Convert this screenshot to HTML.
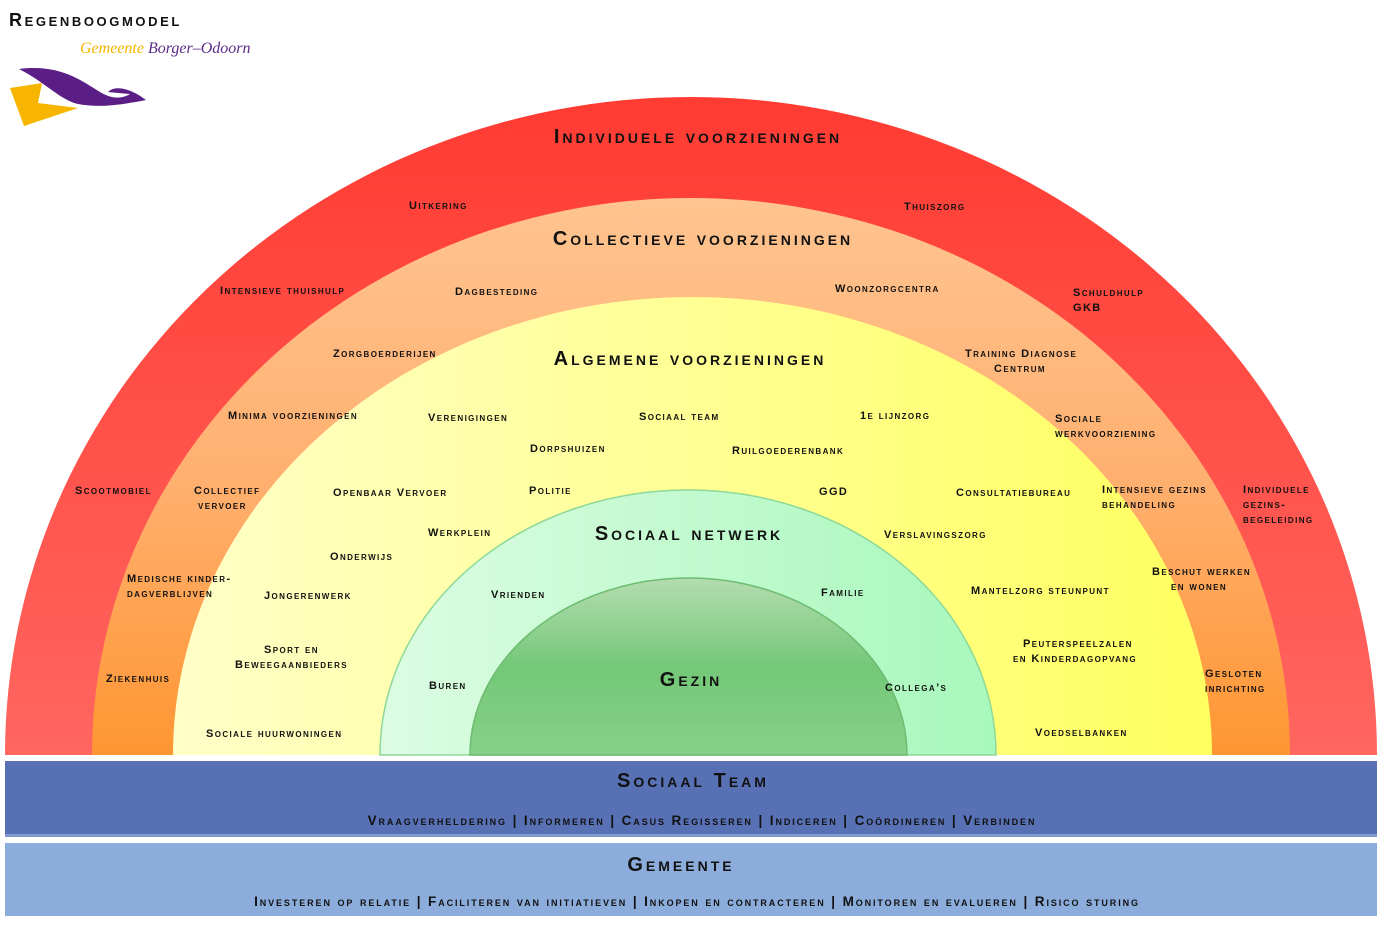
<!DOCTYPE html>
<html><head><meta charset="utf-8"><style>
html,body{margin:0;padding:0;background:#fff;width:1386px;height:948px;overflow:hidden}
svg text{font-family:"Liberation Sans",sans-serif;font-weight:bold;font-variant:small-caps;fill:#111}
.s{font-size:11px;letter-spacing:1.4px}
.h{font-size:20px;letter-spacing:3px}
.b{font-size:13.5px;letter-spacing:1.9px}
</style></head><body>
<svg width="1386" height="948" viewBox="0 0 1386 948" xmlns="http://www.w3.org/2000/svg">
<defs>
<linearGradient id="r" x1="0" y1="0" x2="0" y2="1"><stop offset="0" stop-color="#ff3b32"/><stop offset="1" stop-color="#ff6660"/></linearGradient>
<linearGradient id="o" x1="0" y1="0" x2="0" y2="1"><stop offset="0" stop-color="#ffc490"/><stop offset="0.5" stop-color="#ffb070"/><stop offset="1" stop-color="#ff9632"/></linearGradient>
<linearGradient id="y" x1="0" y1="0" x2="1" y2="0"><stop offset="0" stop-color="#ffffc8"/><stop offset="1" stop-color="#ffff60"/></linearGradient>
<linearGradient id="g" x1="0" y1="0" x2="1" y2="0"><stop offset="0" stop-color="#dcfce2"/><stop offset="1" stop-color="#a8f8bc"/></linearGradient>
<linearGradient id="d" x1="0" y1="0" x2="0" y2="1"><stop offset="0" stop-color="#b4dcb0"/><stop offset="0.5" stop-color="#74c878"/><stop offset="1" stop-color="#88d088"/></linearGradient>
</defs>
<path d="M5 755 A686 658 0 0 1 1377 755 Z" fill="url(#r)"/>
<path d="M92 755 A599 557 0 0 1 1290 755 Z" fill="url(#o)"/>
<path d="M173 755 A519.5 458 0 0 1 1212 755 Z" fill="url(#y)"/>
<path d="M380 755 A308 265 0 0 1 996 755 Z" fill="url(#g)" stroke="#8ed89a" stroke-width="1.5"/>
<path d="M470 755 A218.5 177 0 0 1 907 755 Z" fill="url(#d)" stroke="#6cbc70" stroke-width="1.5"/>
<rect x="5" y="761" width="1372" height="75" fill="#5871b5"/>
<rect x="5" y="834" width="1372" height="3" fill="#7d9ad0"/>
<rect x="5" y="843" width="1372" height="73" fill="#8caddc"/>

<text x="9" y="26" style="font-size:18px;letter-spacing:2.6px">Regenboogmodel</text>
<text x="80" y="53" style="font-family:'Liberation Serif',serif;font-variant:normal;font-weight:normal;font-style:italic;font-size:16px;fill:#f5b400">Gemeente <tspan style="fill:#5a2a86">Borger–Odoorn</tspan></text>
<path d="M19 69 C60 64 80 80 100 92 C110 98 120 100 130 94 L108 92 C115 85 130 88 146 100 C120 105 100 108 78 104 C60 100 45 82 19 69 Z" fill="#5a1e86"/>
<path d="M10 88 L42 83 L38 103 L78 108 L24 126 Z" fill="#f7b500"/>

<g text-anchor="middle">
<text class="h" x="698" y="143">Individuele voorzieningen</text>
<text class="h" x="703" y="245">Collectieve voorzieningen</text>
<text class="h" x="690" y="365">Algemene voorzieningen</text>
<text class="h" x="689" y="540">Sociaal netwerk</text>
<text class="h" x="691" y="686">Gezin</text>
<text class="h" x="693" y="787">Sociaal Team</text>
<text class="h" x="681" y="871">Gemeente</text>
<text class="b" x="702" y="825">Vraagverheldering | Informeren | Casus Regisseren | Indiceren | Coördineren | Verbinden</text>
<text class="b" x="697" y="906">Investeren op relatie | Faciliteren van initiatieven | Inkopen en contracteren | Monitoren en evalueren | Risico sturing</text>
</g>

<g>
<text class="s" x="409" y="209">Uitkering</text>
<text class="s" x="904" y="210">Thuiszorg</text>
<text class="s" x="220" y="294">Intensieve thuishulp</text>
<text class="s" x="455" y="295">Dagbesteding</text>
<text class="s" x="835" y="292">Woonzorgcentra</text>
<text class="s" x="1073" y="296">Schuldhulp</text>
<text class="s" x="1073" y="311">GKB</text>
<text class="s" x="333" y="357">Zorgboerderijen</text>
<text class="s" x="965" y="357">Training Diagnose</text>
<text class="s" x="994" y="372">Centrum</text>
<text class="s" x="228" y="419">Minima voorzieningen</text>
<text class="s" x="428" y="421">Verenigingen</text>
<text class="s" x="639" y="420">Sociaal team</text>
<text class="s" x="860" y="419">1e lijnzorg</text>
<text class="s" x="1055" y="422">Sociale</text>
<text class="s" x="1055" y="437">werkvoorziening</text>
<text class="s" x="530" y="452">Dorpshuizen</text>
<text class="s" x="732" y="454">Ruilgoederenbank</text>
<text class="s" x="75" y="494">Scootmobiel</text>
<text class="s" x="194" y="494">Collectief</text>
<text class="s" x="198" y="509">vervoer</text>
<text class="s" x="333" y="496">Openbaar Vervoer</text>
<text class="s" x="529" y="494">Politie</text>
<text class="s" x="819" y="495">GGD</text>
<text class="s" x="956" y="496">Consultatiebureau</text>
<text class="s" x="1102" y="493">Intensieve gezins</text>
<text class="s" x="1102" y="508">behandeling</text>
<text class="s" x="1243" y="493">Individuele</text>
<text class="s" x="1243" y="508">gezins-</text>
<text class="s" x="1243" y="523">begeleiding</text>
<text class="s" x="428" y="536">Werkplein</text>
<text class="s" x="884" y="538">Verslavingszorg</text>
<text class="s" x="330" y="560">Onderwijs</text>
<text class="s" x="127" y="582">Medische kinder-</text>
<text class="s" x="127" y="597">dagverblijven</text>
<text class="s" x="1152" y="575">Beschut werken</text>
<text class="s" x="1171" y="590">en wonen</text>
<text class="s" x="971" y="594">Mantelzorg steunpunt</text>
<text class="s" x="264" y="599">Jongerenwerk</text>
<text class="s" x="491" y="598">Vrienden</text>
<text class="s" x="821" y="596">Familie</text>
<text class="s" x="264" y="653">Sport en</text>
<text class="s" x="235" y="668">Beweegaanbieders</text>
<text class="s" x="1023" y="647">Peuterspeelzalen</text>
<text class="s" x="1013" y="662">en Kinderdagopvang</text>
<text class="s" x="106" y="682">Ziekenhuis</text>
<text class="s" x="429" y="689">Buren</text>
<text class="s" x="885" y="691">Collega’s</text>
<text class="s" x="1205" y="677">Gesloten</text>
<text class="s" x="1205" y="692">inrichting</text>
<text class="s" x="206" y="737">Sociale huurwoningen</text>
<text class="s" x="1035" y="736">Voedselbanken</text>
</g>
</svg>
</body></html>
